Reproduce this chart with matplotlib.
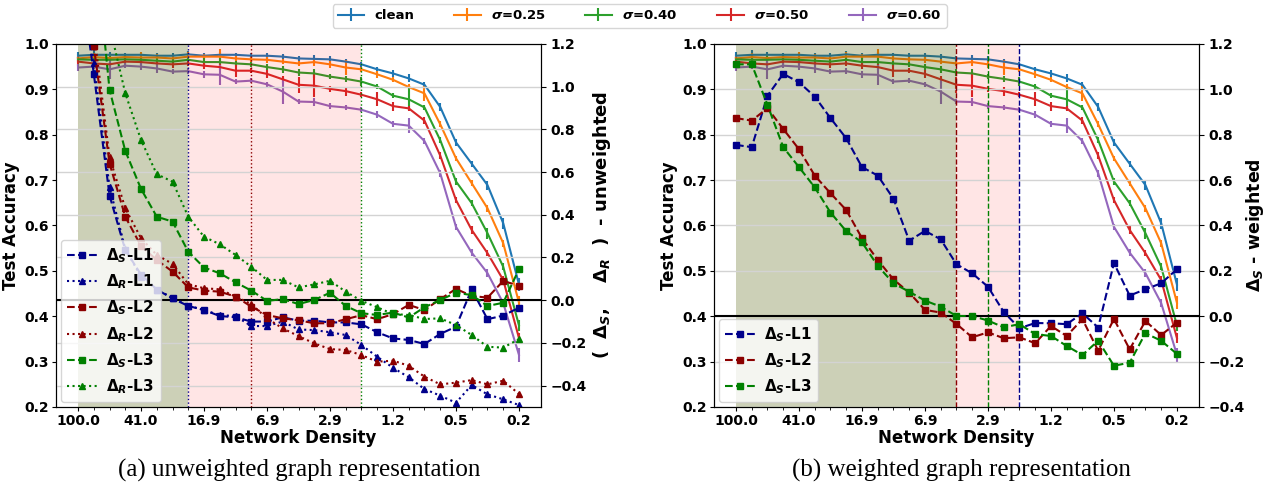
import matplotlib.pyplot as plt
from matplotlib.ticker import FixedLocator

plt.rcParams['font.family'] = 'DejaVu Sans'
plt.rcParams['font.weight'] = 'bold'
plt.rcParams['axes.labelweight'] = 'bold'
plt.rcParams['mathtext.fontset'] = 'custom'
plt.rcParams['mathtext.rm'] = 'DejaVu Sans:bold'
plt.rcParams['mathtext.it'] = 'DejaVu Sans:bold:italic'
plt.rcParams['mathtext.bf'] = 'DejaVu Sans:bold'

# pruning steps (x positions) and density tick labels
steps = list(range(29))
density_ticks = [0, 4, 8, 12, 16, 20, 24, 28]
density_labels = ['100.0', '41.0', '16.9', '6.9', '2.9', '1.2', '0.5', '0.2']

# test accuracy (same in both panels)
acc_clean = [0.974, 0.976, 0.976, 0.976, 0.976, 0.974, 0.974, 0.977, 0.974, 0.976, 0.976, 0.974, 0.974, 0.972, 0.968,
             0.967, 0.966, 0.961, 0.955, 0.944, 0.935, 0.924, 0.910, 0.861, 0.783, 0.736, 0.689, 0.605, 0.470]
acc_s025 = [0.968, 0.971, 0.969, 0.971, 0.970, 0.970, 0.968, 0.972, 0.972, 0.972, 0.968, 0.966, 0.965, 0.961, 0.957,
            0.960, 0.955, 0.948, 0.944, 0.933, 0.921, 0.905, 0.891, 0.823, 0.748, 0.693, 0.638, 0.561, 0.430]
acc_s040 = [0.966, 0.965, 0.965, 0.966, 0.965, 0.963, 0.961, 0.965, 0.960, 0.960, 0.957, 0.955, 0.949, 0.944, 0.937,
            0.935, 0.928, 0.923, 0.917, 0.906, 0.886, 0.878, 0.860, 0.788, 0.697, 0.649, 0.583, 0.509, 0.380]
acc_s050 = [0.961, 0.957, 0.955, 0.961, 0.960, 0.957, 0.955, 0.957, 0.952, 0.949, 0.941, 0.941, 0.934, 0.922, 0.910,
            0.908, 0.901, 0.896, 0.888, 0.878, 0.863, 0.858, 0.831, 0.754, 0.656, 0.590, 0.539, 0.480, 0.352]
acc_s060 = [0.948, 0.950, 0.944, 0.952, 0.950, 0.946, 0.939, 0.940, 0.933, 0.932, 0.917, 0.919, 0.911, 0.895, 0.873,
            0.872, 0.863, 0.860, 0.855, 0.844, 0.824, 0.820, 0.786, 0.715, 0.597, 0.540, 0.495, 0.429, 0.315]

err_clean = [0.008, 0.010, 0.006, 0.005, 0.005, 0.005, 0.005, 0.007, 0.005, 0.006, 0.005, 0.005, 0.007, 0.006, 0.005,
             0.008, 0.007, 0.006, 0.006, 0.006, 0.007, 0.009, 0.006, 0.008, 0.008, 0.007, 0.010, 0.012, 0.015]
err_s025 = [0.006, 0.008, 0.006, 0.006, 0.012, 0.008, 0.006, 0.010, 0.006, 0.016, 0.006, 0.006, 0.007, 0.006, 0.006,
            0.008, 0.007, 0.016, 0.006, 0.007, 0.006, 0.006, 0.016, 0.007, 0.006, 0.007, 0.008, 0.008, 0.015]
err_s040 = [0.006, 0.006, 0.008, 0.010, 0.006, 0.007, 0.006, 0.006, 0.008, 0.010, 0.006, 0.006, 0.007, 0.008, 0.008,
            0.010, 0.006, 0.006, 0.010, 0.006, 0.006, 0.024, 0.006, 0.007, 0.008, 0.007, 0.012, 0.008, 0.012]
err_s050 = [0.010, 0.006, 0.006, 0.008, 0.006, 0.006, 0.007, 0.006, 0.008, 0.006, 0.013, 0.006, 0.008, 0.008, 0.018,
            0.025, 0.006, 0.010, 0.006, 0.015, 0.010, 0.006, 0.008, 0.008, 0.006, 0.008, 0.007, 0.008, 0.012]
err_s060 = [0.008, 0.006, 0.022, 0.006, 0.008, 0.010, 0.006, 0.006, 0.008, 0.022, 0.006, 0.006, 0.006, 0.028, 0.006,
            0.008, 0.006, 0.006, 0.006, 0.008, 0.006, 0.016, 0.007, 0.008, 0.006, 0.008, 0.008, 0.008, 0.015]

acc_labels = ['clean', r'$\sigma$=0.25', r'$\sigma$=0.40', r'$\sigma$=0.50', r'$\sigma$=0.60']
acc_colors = ['tab:blue', 'tab:orange', 'tab:green', 'tab:red', 'tab:purple']

# unweighted deltas
dS_L1_unw = [1.60, 1.06, 0.49, 0.235, 0.12, 0.05, 0.008, -0.027, -0.046, -0.074, -0.080, -0.100, -0.100, -0.080, -0.096,
             -0.096, -0.104, -0.104, -0.113, -0.150, -0.179, -0.186, -0.205, -0.158, -0.124, 0.051, -0.089, -0.072, -0.035]
dR_L1_unw = [1.70, 1.11, 0.53, 0.24, 0.11, 0.05, 0.011, -0.025, -0.046, -0.070, -0.074, -0.121, -0.121, -0.100, -0.137,
             -0.140, -0.150, -0.163, -0.210, -0.265, -0.316, -0.361, -0.416, -0.447, -0.480, -0.397, -0.441, -0.464, -0.491]
dS_L2_unw = [1.80, 1.19, 0.64, 0.391, 0.254, 0.188, 0.134, 0.060, 0.045, 0.040, 0.017, -0.030, -0.069, -0.085, -0.094,
             -0.108, -0.108, -0.089, -0.070, -0.089, -0.065, -0.022, -0.046, 0.005, 0.053, 0.020, 0.012, 0.090, 0.068]
dR_L2_unw = [1.90, 1.26, 0.67, 0.430, 0.290, 0.212, 0.170, 0.075, 0.056, 0.051, 0.017, -0.018, -0.085, -0.132, -0.168,
             -0.202, -0.229, -0.233, -0.257, -0.288, -0.283, -0.307, -0.358, -0.394, -0.386, -0.374, -0.394, -0.377, -0.439]
dS_L3_unw = [2.60, 1.73, 0.985, 0.699, 0.521, 0.391, 0.368, 0.227, 0.153, 0.126, 0.084, 0.045, -0.003, 0.005, -0.018,
             0.001, 0.035, -0.027, -0.061, -0.069, -0.058, -0.081, -0.033, 0.001, 0.035, 0.024, -0.027, -0.012, 0.145]
dR_L3_unw = [3.00, 2.00, 1.285, 0.969, 0.750, 0.590, 0.555, 0.391, 0.297, 0.262, 0.212, 0.157, 0.095, 0.095, 0.060,
             0.074, 0.091, 0.040, -0.003, -0.033, -0.065, -0.069, -0.088, -0.085, -0.116, -0.163, -0.218, -0.222, -0.182]

# weighted deltas
dS_L1_w = [0.755, 0.745, 0.972, 1.068, 1.031, 0.968, 0.873, 0.784, 0.657, 0.620, 0.518, 0.333, 0.376, 0.339, 0.229,
           0.189, 0.130, 0.019, -0.053, -0.030, -0.031, -0.035, 0.013, -0.050, 0.234, 0.091, 0.119, 0.145, 0.207]
dS_L2_w = [0.873, 0.862, 0.917, 0.825, 0.736, 0.620, 0.542, 0.468, 0.344, 0.248, 0.162, 0.104, 0.028, 0.016, -0.034,
           -0.093, -0.071, -0.097, -0.093, -0.119, -0.043, -0.087, -0.013, -0.152, -0.012, -0.146, -0.021, -0.083, -0.028]
dS_L3_w = [1.110, 1.110, 0.931, 0.745, 0.657, 0.568, 0.457, 0.375, 0.326, 0.222, 0.145, 0.108, 0.069, 0.042, 0.001,
           0.001, -0.019, -0.049, -0.035, -0.079, -0.087, -0.131, -0.171, -0.108, -0.218, -0.205, -0.075, -0.108, -0.166]

accs = [acc_clean, acc_s025, acc_s040, acc_s050, acc_s060]
errs = [err_clean, err_s025, err_s040, err_s050, err_s060]

fig = plt.figure(figsize=(12.67, 4.88), dpi=100)
ax_a = fig.add_axes([0.0442, 0.166, 0.3828, 0.744])
ax_b = fig.add_axes([0.5635, 0.166, 0.3828, 0.744])

for ax in (ax_a, ax_b):
    for acc, err, c, lab in zip(accs, errs, acc_colors, acc_labels):
        ax.errorbar(steps, acc, yerr=err, color=c, lw=1.5, elinewidth=1.5, capsize=0, label=lab)
    ax.set_ylim(0.2, 1.0)
    ax.set_xlim(-1.4, 29.4)
    ax.set_xticks(density_ticks)
    ax.set_xticklabels(density_labels)
    ax.xaxis.set_minor_locator(FixedLocator(steps))
    ax.tick_params(axis='x', which='minor', length=2)
    ax.tick_params(axis='x', which='major', length=3, pad=2)
    ax.tick_params(axis='y', length=3, pad=2)
    ax.tick_params(labelsize=10)
    ax.set_xlabel('Network Density', fontsize=12, labelpad=1)
    ax.set_ylabel('Test Accuracy', fontsize=12, labelpad=3)

# (a) unweighted
tw_a = ax_a.twinx()
tw_a.axvspan(0, 18, color='red', alpha=0.1, lw=0)
tw_a.axvspan(0, 7, color='green', alpha=0.2, lw=0)
tw_a.axvline(7, color='darkblue', ls=':', lw=1)
tw_a.axvline(11, color='darkred', ls=':', lw=1)
tw_a.axvline(18, color='green', ls=':', lw=1)
tw_a.axhline(0, color='black', lw=1.5)
tw_a.plot(steps, dS_L1_unw, '--s', color='darkblue', ms=5, lw=1.5, label=r'$\Delta_S$-L1')
tw_a.plot(steps, dR_L1_unw, ':^', color='darkblue', ms=5, lw=1.5, label=r'$\Delta_R$-L1')
tw_a.plot(steps, dS_L2_unw, '--s', color='darkred', ms=5, lw=1.5, label=r'$\Delta_S$-L2')
tw_a.plot(steps, dR_L2_unw, ':^', color='darkred', ms=5, lw=1.5, label=r'$\Delta_R$-L2')
tw_a.plot(steps, dS_L3_unw, '--s', color='green', ms=5, lw=1.5, label=r'$\Delta_S$-L3')
tw_a.plot(steps, dR_L3_unw, ':^', color='green', ms=5, lw=1.5, label=r'$\Delta_R$-L3')
tw_a.set_ylim(-0.5, 1.2)
tw_a.set_yticks([-0.4, -0.2, 0.0, 0.2, 0.4, 0.6, 0.8, 1.0, 1.2])
tw_a.grid(axis='y', color='lightgray', lw=1)
tw_a.tick_params(labelsize=10)
tw_a.set_ylabel(r'(  $\Delta_S$,    $\Delta_R$  )  - unweighted', fontsize=13, labelpad=3)
tw_a.legend(loc='lower left', fontsize=11, handlelength=2.0, handletextpad=0.6, borderaxespad=0.3,
            framealpha=0.8)

# (b) weighted
tw_b = ax_b.twinx()
tw_b.axvspan(0, 18, color='red', alpha=0.1, lw=0)
tw_b.axvspan(0, 14, color='green', alpha=0.2, lw=0)
tw_b.axvline(14, color='darkred', ls='--', lw=1)
tw_b.axvline(16, color='green', ls='--', lw=1)
tw_b.axvline(18, color='darkblue', ls='--', lw=1)
tw_b.axhline(0, color='black', lw=1.5)
tw_b.plot(steps, dS_L1_w, '--s', color='darkblue', ms=5, lw=1.5, label=r'$\Delta_S$-L1')
tw_b.plot(steps, dS_L2_w, '--s', color='darkred', ms=5, lw=1.5, label=r'$\Delta_S$-L2')
tw_b.plot(steps, dS_L3_w, '--s', color='green', ms=5, lw=1.5, label=r'$\Delta_S$-L3')
tw_b.set_ylim(-0.4, 1.2)
tw_b.set_yticks([-0.4, -0.2, 0.0, 0.2, 0.4, 0.6, 0.8, 1.0, 1.2])
tw_b.grid(axis='y', color='lightgray', lw=1)
tw_b.tick_params(labelsize=10)
tw_b.set_ylabel(r'$\Delta_S$ - weighted', fontsize=12.5, labelpad=-1)
tw_b.legend(loc='lower left', fontsize=11, handlelength=2.0, handletextpad=0.6, borderaxespad=0.3,
            framealpha=0.8)

handles, labels = ax_a.get_legend_handles_labels()
fig.legend(handles, labels, loc='upper center', bbox_to_anchor=(0.505, 1.005), ncol=5, fontsize=9.5,
           handlelength=2.0, columnspacing=3.0)

fig.text(0.236, 0.035, '(a) unweighted graph representation', ha='center', va='center',
         family='Liberation Serif', fontweight='normal', fontsize=18)
fig.text(0.759, 0.035, '(b) weighted graph representation', ha='center', va='center',
         family='Liberation Serif', fontweight='normal', fontsize=18)

fig.savefig('out.png', dpi=100)
